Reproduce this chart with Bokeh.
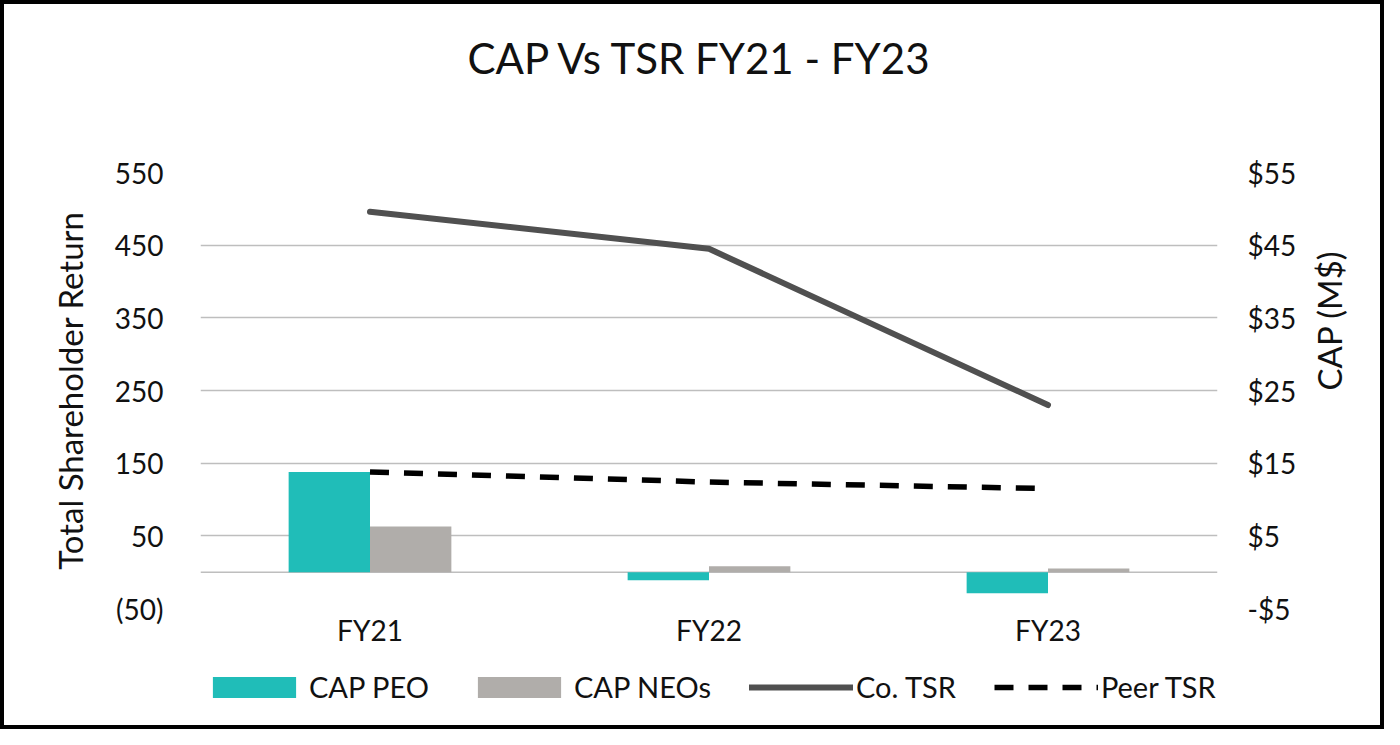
import math
from bokeh.plotting import figure
from bokeh.models import (Range1d, LinearAxis, FixedTicker, Span, Legend, LegendItem,
                          Title, ColumnDataSource, FactorRange)
from bokeh.transform import dodge
from bokeh.layouts import column
from bokeh.embed import file_html
from bokeh.resources import INLINE

# ---- data ----
categories = ["FY21", "FY22", "FY23"]
cap_peo = [13.8, -1.1, -2.9]      # M$
cap_neos = [6.3, 0.8, 0.5]        # M$
co_tsr = [496, 445, 230]
peer_tsr = [138, 124, 115]
tsr_ticks = [-50, 50, 150, 250, 350, 450, 550]
tsr_tick_labels = ["(50)", "50", "150", "250", "350", "450", "550"]
cap_ticks = [-5, 5, 15, 25, 35, 45, 55]
cap_tick_labels = ["-$5", "$5", "$15", "$25", "$35", "$45", "$55"]
title_text = "CAP Vs TSR FY21 - FY23"
left_title = "Total Shareholder Return"
right_title = "CAP (M$)"
series_names = ["CAP PEO", "CAP NEOs", "Co. TSR", "Peer TSR"]

FONT = "Lato"
TXT = "#111111"
TEAL = "#20BDB8"
GRAY = "#B0ADAA"
DARK = "#505050"
GRID = "#BEBEBE"
BORDER = "4px solid #000000"

src = ColumnDataSource(dict(cat=categories, peo=cap_peo, neos=cap_neos, co=co_tsr, peer=peer_tsr))


def draw_series(fig, xr):
    r1 = fig.vbar(x=dodge("cat", -0.12, range=xr), top="peo", bottom=0, width=0.24, source=src,
                  y_range_name="cap", fill_color=TEAL, line_color=None)
    r2 = fig.vbar(x=dodge("cat", 0.12, range=xr), top="neos", bottom=0, width=0.24, source=src,
                  y_range_name="cap", fill_color=GRAY, line_color=None)
    r3 = fig.line("cat", "co", source=src, line_width=6, line_color=DARK,
                  line_cap="round", line_join="round")
    r4 = fig.line("cat", "peer", source=src, line_width=5.5, line_color="#000000", line_dash="19 15")
    return r1, r2, r3, r4


# ---------------- main chart ----------------
p = figure(width=1384, height=658, x_range=FactorRange(*categories),
           y_range=Range1d(tsr_ticks[0], tsr_ticks[-1]),
           toolbar_location=None, output_backend="svg",
           min_border_left=196, min_border_right=171, min_border_top=168, min_border_bottom=54)
p.extra_y_ranges = {"cap": Range1d(cap_ticks[0], cap_ticks[-1])}
p.outline_line_color = None
p.background_fill_color = "white"
p.border_fill_color = "white"
p.styles = {"border-left": BORDER, "border-right": BORDER, "border-top": BORDER}

# titles: spacer first (closest to frame), then main title
p.add_layout(Title(text=" ", text_font_size="1px", standoff=82), "above")
p.add_layout(Title(text=title_text, align="left", offset=267, text_font=FONT, text_font_size="42px",
                   text_font_style="normal", text_color=TXT, standoff=10), "above")

# zero line
p.add_layout(Span(location=0, dimension="width", line_color=GRID, line_width=1.5, level="underlay"))

draw_series(p, p.x_range)

# axes
for ax in [p.xaxis[0], p.yaxis[0]]:
    ax.axis_line_color = None
    ax.major_tick_line_color = None
    ax.minor_tick_line_color = None
    ax.major_tick_out = 0
    ax.major_tick_in = 0
    ax.major_label_text_font = FONT
    ax.major_label_text_font_size = "28px"
    ax.major_label_text_color = TXT
    ax.axis_label_text_font = FONT
    ax.axis_label_text_font_size = "33px"
    ax.axis_label_text_font_style = "normal"
    ax.axis_label_text_color = TXT

p.xaxis.major_label_standoff = 4
p.xgrid.grid_line_color = None

p.yaxis.ticker = FixedTicker(ticks=tsr_ticks)
p.yaxis.major_label_overrides = dict(zip(tsr_ticks, tsr_tick_labels))
p.yaxis.major_label_standoff = 37
p.yaxis.axis_label = left_title
p.yaxis.axis_label_standoff = 22
p.ygrid.grid_line_color = GRID
p.ygrid.grid_line_width = 1.5

rax = LinearAxis(y_range_name="cap", ticker=FixedTicker(ticks=cap_ticks),
                 major_label_overrides=dict(zip(cap_ticks, cap_tick_labels)),
                 axis_label=right_title)
rax.axis_line_color = None
rax.major_tick_line_color = None
rax.minor_tick_line_color = None
rax.major_tick_out = 0
rax.major_tick_in = 0
rax.major_label_text_font = FONT
rax.major_label_text_font_size = "28px"
rax.major_label_text_color = TXT
rax.major_label_standoff = 30
rax.axis_label_text_font = FONT
rax.axis_label_text_font_size = "33px"
rax.axis_label_text_font_style = "normal"
rax.axis_label_text_color = TXT
rax.axis_label_standoff = 30
rax.axis_label_orientation = math.pi / 2
p.add_layout(rax, "right")

# ---------------- legend strip (series kept out of its visible range) ----------------
q = figure(width=1384, height=71, x_range=FactorRange(*categories), y_range=Range1d(2000, 2100),
           x_axis_type=None, y_axis_type=None, toolbar_location=None, output_backend="svg",
           min_border_left=0, min_border_right=0, min_border_top=0, min_border_bottom=0)
q.extra_y_ranges = {"cap": Range1d(200, 210)}
q.outline_line_color = None
q.background_fill_color = "white"
q.border_fill_color = "white"
q.styles = {"border-left": BORDER, "border-right": BORDER, "border-bottom": BORDER}
q.xgrid.visible = False
q.ygrid.visible = False

g1, g2, g3, g4 = draw_series(q, q.x_range)

legend = Legend(items=[LegendItem(label=series_names[0], renderers=[g1]),
                       LegendItem(label=series_names[1], renderers=[g2]),
                       LegendItem(label=series_names[2], renderers=[g3]),
                       LegendItem(label=series_names[3], renderers=[g4])],
                location=(2, 25), orientation="horizontal",
                glyph_width=104, glyph_height=26, label_standoff=3, spacing=38,
                padding=0, margin=0, border_line_color=None, background_fill_alpha=0,
                label_text_font=FONT, label_text_font_size="29px", label_text_color=TXT)
q.add_layout(legend, "center")

layout = column(p, q, spacing=0)
open("out.html", "w").write(file_html(layout, INLINE))
